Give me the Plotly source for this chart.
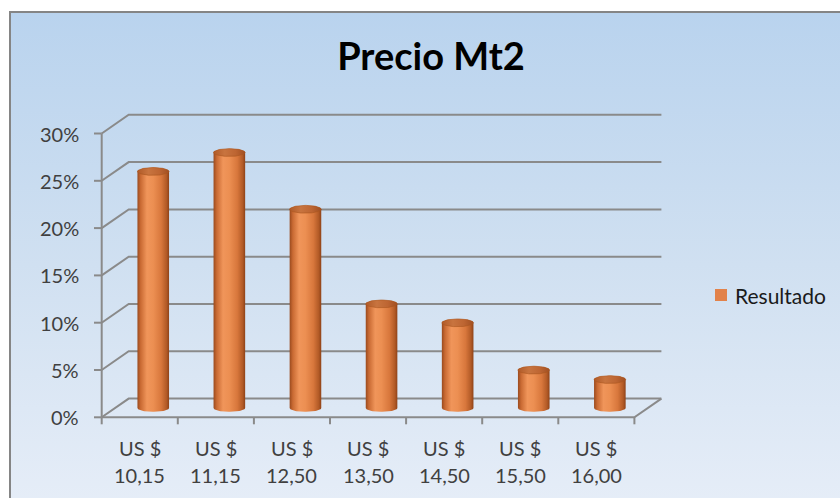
import numpy as np
import plotly.graph_objects as go

# ---- data ----------------------------------------------------------------
currency = "US $"
price_labels = ["10,15", "11,15", "12,50", "13,50", "14,50", "15,50", "16,00"]
shares = [25, 27, 21, 11, 9, 4, 3]          # percent of answers per price
y_ticks = [0, 5, 10, 15, 20, 25, 30]
y_tick_labels = ["0%", "5%", "10%", "15%", "20%", "25%", "30%"]
series_name = "Resultado"
title_text = "Precio Mt2"

# ---- geometry of the pseudo-3D frame (pixel scale of the canvas) ---------
W, H = 840, 498
X0, UX = 101.7, 76.1     # x pixel of the front-left corner, pixels per category
Y0, UY = 417.3, 9.46     # y pixel of 0 %, pixels per percentage point
DX = 27.0 / UX           # depth offset of the back wall (x, in category units)
DV = 18.7 / UY           # depth offset of the back wall (y, in percent units)
N = len(shares)


def u_of(px):
    return (px - X0) / UX


def v_of(py):
    return (Y0 - py) / UY


x_range = [u_of(0), u_of(W)]
y_range = [v_of(H), v_of(0)]

GRID = "#8a8a8a"
TEXT = "#404040"
FONT = "Lato"
LABEL_SIZE = 20

fig = go.Figure()

# chart area background with vertical gradient and grey border
bx0, by0 = u_of(10), v_of(12)
bx1, by1 = u_of(W + 20), v_of(H + 20)
fig.add_trace(go.Scatter(
    x=[bx0, bx0, bx1, bx1, bx0], y=[by1, by0, by0, by1, by1],
    mode="lines", fill="toself",
    line=dict(color="#858585", width=2),
    fillgradient=dict(type="vertical",
                      colorscale=[[0, "#e7eef8"], [0.5, "#d0e0f1"], [1, "#b9d3ee"]],
                      start=by1, stop=by0),
    hoverinfo="skip", showlegend=False,
))

# back wall gridlines + side wall diagonals
gx, gy = [], []
for t in y_ticks:
    gx += [0, DX, N + DX, None]
    gy += [t, t + DV, t + DV, None]
# floor: front edge and right side
gx += [0, N, N + DX, None]
gy += [0, 0, DV, None]
# front value axis
gx += [0, 0, None]
gy += [0, y_ticks[-1], None]
# value-axis tick marks
for t in y_ticks:
    gx += [u_of(94), 0, None]
    gy += [t, t, None]
# category tick marks
for k in range(N + 1):
    gx += [k, k, None]
    gy += [0, -7 / UY, None]
fig.add_trace(go.Scatter(x=gx, y=gy, mode="lines",
                         line=dict(color=GRID, width=2),
                         hoverinfo="skip", showlegend=False))

# cylinders
R = 15.8 / UX            # radius in category units
B = 3.9 / UY             # half height of the ellipses in percent units
base = DV / 2            # cylinders stand halfway into the floor depth
body_scale = [[0, "#9a4a1e"], [0.1, "#c96a33"], [0.3, "#f0955a"],
              [0.5, "#ec8f52"], [0.75, "#d8773c"], [0.92, "#b25a26"],
              [1, "#8e4218"]]
cap_scale = [[0, "#b05a28"], [0.35, "#c8743f"], [0.7, "#bd6532"], [1, "#a04f22"]]

th_front = np.linspace(np.pi, 2 * np.pi, 40)
th_back = np.linspace(0, np.pi, 40)
th_full = np.linspace(0, 2 * np.pi, 80)

for i, val in enumerate(shares):
    uc = i + 0.5 + DX / 2
    top = base + val
    bx = np.concatenate([uc + R * np.cos(th_front), uc + R * np.cos(th_back)])
    by = np.concatenate([base + B * np.sin(th_front), top + B * np.sin(th_back)])
    fig.add_trace(go.Scatter(
        x=np.append(bx, bx[0]), y=np.append(by, by[0]),
        mode="lines", fill="toself", line=dict(width=0, color="#9a4a1e"),
        fillgradient=dict(type="horizontal", colorscale=body_scale,
                          start=uc - R, stop=uc + R),
        hovertemplate=f"{currency} {price_labels[i]}: {val}%<extra></extra>",
        showlegend=False,
    ))
    fig.add_trace(go.Scatter(
        x=uc + R * np.cos(th_full), y=top + B * np.sin(th_full),
        mode="lines", fill="toself", line=dict(width=0.6, color="#a9561f"),
        fillgradient=dict(type="horizontal", colorscale=cap_scale,
                          start=uc - R, stop=uc + R),
        hoverinfo="skip", showlegend=False,
    ))

annotations = []
# value-axis labels
for t, lab in zip(y_ticks, y_tick_labels):
    annotations.append(dict(x=u_of(81), y=t, xref="x", yref="y", text=lab,
                            xanchor="right", yanchor="middle", showarrow=False,
                            font=dict(family=FONT, size=LABEL_SIZE, color=TEXT)))
# category labels (two lines each)
for i, p in enumerate(price_labels):
    annotations.append(dict(x=i + 0.5, y=v_of(448), xref="x", yref="y",
                            text=currency, xanchor="center", yanchor="middle",
                            showarrow=False,
                            font=dict(family=FONT, size=LABEL_SIZE, color=TEXT)))
    annotations.append(dict(x=i + 0.5, y=v_of(475), xref="x", yref="y",
                            text=p, xanchor="center", yanchor="middle",
                            showarrow=False,
                            font=dict(family=FONT, size=LABEL_SIZE, color=TEXT)))
# legend
annotations.append(dict(x=733 / W, y=1 - 295 / H, xref="paper", yref="paper",
                        text=series_name, xanchor="left", yanchor="middle",
                        showarrow=False,
                        font=dict(family=FONT, size=21, color="#1a1a1a")))

shapes = [dict(type="rect", xref="paper", yref="paper",
               x0=715 / W, x1=727 / W, y0=1 - 301 / H, y1=1 - 289 / H,
               fillcolor="#e2824a", line=dict(width=0))]

fig.update_layout(
    width=W, height=H,
    margin=dict(l=0, r=0, t=0, b=0),
    paper_bgcolor="white", plot_bgcolor="rgba(0,0,0,0)",
    title=dict(text=f"<b>{title_text}</b>", x=431 / W, y=1 - 57 / H,
               xanchor="center", yanchor="middle",
               font=dict(family=FONT, size=38, color="#000000")),
    xaxis=dict(range=x_range, visible=False, fixedrange=True),
    yaxis=dict(range=y_range, visible=False, fixedrange=True),
    annotations=annotations, shapes=shapes,
    showlegend=False,
)

fig.write_html("out.html")
